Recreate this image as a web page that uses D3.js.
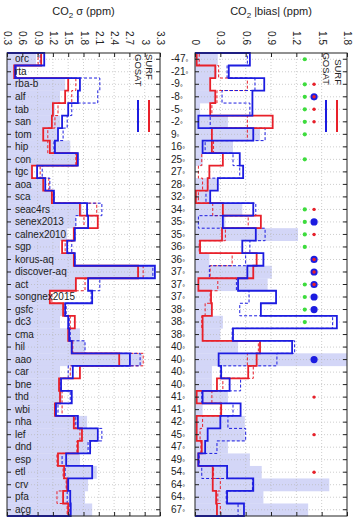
<!DOCTYPE html>
<html>
<head>
<meta charset="utf-8">
<script src="https://cdn.jsdelivr.net/npm/d3@7"></script>
<style>
  body { margin: 0; background: #fff; }
  text { font-family: "Liberation Sans", Arial, sans-serif; }
</style>
</head>
<body>
<svg id="chart" width="353" height="521"></svg>
<script>
const sites = ['orc', 'rta', 'rba-b', 'alf', 'tab', 'san', 'tom', 'hip', 'con', 'tgc', 'aoa', 'sca',
  'seac4rs', 'senex2013', 'calnex2010', 'sgp', 'korus-aq', 'discover-aq', 'act', 'songnex2015',
  'gsfc', 'dc3', 'cma', 'hil', 'aao', 'car', 'bne', 'thd', 'wbi', 'nha', 'lef', 'dnd', 'esp',
  'etl', 'crv', 'pfa', 'acg'];
const lats = [-47, -21, -9, -8, -5, -2, 9, 16, 25, 27, 28, 32, 34, 35, 35, 36, 36, 37, 37, 37,
  38, 38, 38, 40, 40, 40, 40, 41, 41, 42, 45, 47, 49, 54, 64, 64, 67];

// CO2 sigma (ppm)
const sigmaTicks = [0.3, 0.6, 0.9, 1.2, 1.5, 1.8, 2.1, 2.4, 2.7, 3, 3.3];
const sigmaObs = [0.87, 0.42, 1.44, 1.34, 1.24, 1.34, 1.28, 1.54, 1.69, 0.79, 1.01, 1.18, 1.77, 1.65, 1.48, 1.34, 1.59, 3.20, 1.67, 1.14,
  1.40, 1.34, 1.73, 1.83, 2.95, 1.34, 1.34, 1.38, 1.28, 1.87, 2.06, 1.89, 1.73, 2.06, 1.89, 1.83, 1.97];
const sigmaSurf = [0.97, 0.44, 1.50, 1.44, 1.20, 1.18, 1.01, 1.14, 1.67, 0.79, 1.01, 1.18, 1.73, 2.08, 1.61, 1.38, 1.61, 2.87, 1.65, 1.14,
  1.40, 1.63, 1.50, 1.57, 2.50, 1.73, 1.32, 1.34, 1.24, 1.61, 1.77, 1.69, 1.30, 1.42, 1.48, 1.40, 1.50];
const sigmaSurfDash = [0.91, 0.46, 1.65, 1.57, 1.30, 1.24, 1.10, 1.10, 1.65, 0.95, 1.12, 1.20, 2.06, 1.81, 1.61, 1.44, 1.61, 2.97, 1.83, 1.18,
  1.42, 1.54, 1.52, 1.59, 2.97, 1.54, 1.34, 1.38, 1.38, 1.63, 1.73, 1.67, 1.28, 1.40, 1.46, 1.28, 1.48];
const sigmaGosat = [1.03, 0.46, 1.73, 1.69, 1.50, 1.38, 1.30, 1.24, 1.69, 0.89, 1.05, 1.22, 1.87, 1.89, 1.63, 1.48, 1.63, 3.20, 1.89, 1.97,
  1.44, 1.50, 1.52, 1.57, 2.71, 1.59, 1.36, 1.57, 1.26, 1.69, 2.08, 1.93, 1.46, 1.97, 1.50, 1.54, 1.55];
const sigmaGosatDash = [0.95, 0.48, 2.12, 2.08, 1.57, 1.48, 1.40, 1.22, 1.67, 0.99, 1.14, 1.22, 2.16, 1.65, 1.63, 1.57, 1.63, 3.16, 2.12, 1.95,
  1.46, 1.52, 1.54, 1.83, 2.91, 1.50, 1.34, 1.54, 1.30, 1.65, 2.16, 1.89, 1.38, 1.44, 1.48, 1.48, 1.52];

// CO2 |bias| (ppm)
const biasTicks = [0, 0.3, 0.6, 0.9, 1.2, 1.5, 1.8];
const biasObs = [0.27, 0.26, 0.18, 0.24, 0.06, 0.39, 0.77, 0.45, 0.09, 0.01, 0.26, 0.18, 0.56, 0.36, 1.22, 0.06, 0.17, 0.91, 0.86, 0.18,
  0.20, 0.33, 0.30, 0.51, 1.80, 0.20, 0.20, 0.39, 0.09, 0.59, 0.59, 0.39, 0.65, 0.79, 1.59, 0.81, 1.34];
const biasSurf = [0.02, 0.24, 0.18, 0.24, 0.18, 0.92, 0.20, 0.20, 0.33, 0.17, 0.15, 0.01, 0.33, 0.78, 0.32, 0.06, 0.73, 0.69, 0.04, 0.19,
  0.20, 0.09, 0.09, 0.77, 0.73, 0.63, 0.26, 0.02, 0.31, 0.02, 0.02, 0.08, 0.04, 0.21, 0.21, 0.25, 0.26];
const biasSurfDash = [0.05, 0.28, 0.62, 0.26, 0.20, 0.62, 0.62, 0.22, 0.08, 0.04, 0.09, 0.04, 0.21, 0.63, 0.36, 0.05, 0.44, 0.18, 0.27, 0.18,
  0.12, 0.08, 0.09, 0.75, 0.62, 0.69, 0.33, 0.20, 0.30, 0.09, 0.06, 0.07, 0.04, 0.22, 0.30, 0.27, 0.30];
const biasGosat = [0.65, 0.40, 0.82, 0.68, 0.68, 0.04, 0.69, 0.09, 0.53, 0.57, 0.27, 0.18, 0.69, 0.33, 0.72, 0.56, 0.81, 0.62, 0.51, 0.96,
  0.78, 1.68, 0.45, 1.15, 0.28, 0.31, 0.41, 0.09, 0.54, 0.30, 0.15, 0.12, 0.04, 0.38, 0.69, 0.38, 0.58];
const biasGosatDash = [0.62, 0.38, 0.71, 0.32, 0.65, 0.18, 0.83, 0.12, 0.45, 0.53, 0.15, 0.13, 0.72, 0.04, 0.83, 0.65, 0.60, 0.17, 0.49, 0.64,
  0.53, 1.63, 0.44, 1.18, 0.97, 0.30, 0.54, 0.08, 0.45, 0.39, 0.60, 0.26, 0.05, 0.08, 0.68, 0.37, 0.51];

// markers in the bias panel (1 = shown)
const flagGreen = [1, 0, 1, 1, 1, 1, 1, 0, 1, 0, 0, 0, 1, 1, 1, 1, 0, 0, 1, 1, 1, 1, 0, 0, 0, 0, 0, 0, 0, 0, 0, 0, 0, 0, 0, 0, 0];
const flagRed   = [0, 0, 1, 1, 1, 1, 0, 0, 0, 0, 0, 0, 1, 0, 1, 0, 1, 1, 1, 0, 0, 0, 0, 0, 0, 0, 0, 1, 0, 0, 1, 0, 0, 1, 0, 0, 0];
const flagBlue  = [0, 0, 0, 1, 0, 0, 0, 0, 0, 0, 0, 0, 0, 1, 0, 0, 1, 1, 1, 1, 1, 0, 0, 0, 1, 0, 0, 0, 0, 0, 0, 0, 0, 0, 0, 0, 0];

const RED = '#e8202a', BLUE = '#1c1ce0', SHADE = '#d3d6f7', GREEN = '#3ddc3d';
const plotTop = 53, plotBottom = 516;

const svg = d3.select('#chart');
const y = d3.scaleBand().domain(d3.range(sites.length)).range([plotTop, plotBottom]);
const bw = y.bandwidth();

function drawPanel(p) {
  const x = d3.scaleLinear().domain(p.domain).range(p.range);
  const x0 = x(p.domain[0]);
  const g = svg.append('g');

  g.selectAll('.shade')
    .data(p.shade)
    .join('rect')
    .attr('class', 'shade')
    .attr('x', x0)
    .attr('y', (d, i) => y(i))
    .attr('width', d => x(d) - x0)
    .attr('height', bw + 0.3)
    .attr('fill', SHADE);

  // dotted grid
  g.selectAll('.vgrid')
    .data(p.ticks.slice(1, -1))
    .join('line')
    .attr('x1', d => x(d)).attr('x2', d => x(d))
    .attr('y1', plotTop).attr('y2', plotBottom)
    .attr('stroke', '#b8b8b8').attr('stroke-width', 0.7).attr('stroke-dasharray', '1,2');
  g.selectAll('.hgrid')
    .data(d3.range(sites.length))
    .join('line')
    .attr('x1', p.range[0]).attr('x2', p.range[1])
    .attr('y1', d => y(d) + bw / 2).attr('y2', d => y(d) + bw / 2)
    .attr('stroke', '#b8b8b8').attr('stroke-width', 0.7).attr('stroke-dasharray', '1,2');

  const line = d3.line().x(d => x(d[0])).y(d => d[1]);
  p.series.forEach(s => {
    const pts = [[p.domain[0], plotTop]];
    s.values.forEach((v, i) => {
      pts.push([v, y(i)], [v, y(i) + bw]);
    });
    pts.push([p.domain[0], plotBottom]);
    g.append('path')
      .attr('d', line(pts))
      .attr('fill', 'none')
      .attr('stroke', s.color)
      .attr('stroke-width', s.dash ? 1 : 1.8)
      .attr('stroke-dasharray', s.dash ? '3,2' : null);
  });

  if (p.markers) p.markers(g, x);

  // frame
  g.append('rect')
    .attr('x', p.range[0]).attr('y', plotTop)
    .attr('width', p.range[1] - p.range[0]).attr('height', plotBottom - plotTop)
    .attr('fill', 'none').attr('stroke', '#222').attr('stroke-width', 1);

  // top ticks with rotated labels
  const topAxis = g.append('g')
    .attr('transform', `translate(0,${plotTop})`)
    .call(d3.axisTop(x).tickValues(p.ticks).tickSize(-4).tickFormat(d3.format('')));
  topAxis.select('.domain').remove();
  topAxis.selectAll('text')
    .attr('transform', 'rotate(90)')
    .attr('x', -8).attr('y', 0).attr('dy', '0.35em')
    .attr('text-anchor', 'end')
    .attr('font-size', 10).attr('fill', '#222');

  const botAxis = g.append('g')
    .attr('transform', `translate(0,${plotBottom})`)
    .call(d3.axisBottom(x).tickValues(p.ticks).tickSize(-4).tickFormat(''));
  botAxis.select('.domain').remove();

  const rightAxis = g.append('g')
    .attr('transform', `translate(${p.range[1]},0)`)
    .call(d3.axisRight(y).tickSize(-4).tickFormat(''));
  rightAxis.select('.domain').remove();

  const leftAxis = g.append('g')
    .attr('transform', `translate(${p.range[0]},0)`)
    .call(d3.axisLeft(y).tickSize(-4).tickFormat(p.label));
  leftAxis.select('.domain').remove();
  leftAxis.selectAll('line').attr('stroke', '#222');
  leftAxis.selectAll('text')
    .attr('x', p.labelX)
    .attr('text-anchor', 'start')
    .attr('font-size', 10).attr('fill', '#222');
  if (p.degree) {
    leftAxis.selectAll('text').append('tspan')
      .attr('font-size', 7).attr('dy', '0.3em').text('°');
  }
  g.selectAll('.tick line').attr('stroke', '#222');

  // title
  const t = svg.append('text')
    .attr('x', (p.range[0] + p.range[1]) / 2 + p.titleShift).attr('y', 15)
    .attr('text-anchor', 'middle').attr('font-size', 11).attr('fill', '#222');
  t.append('tspan').text('CO');
  t.append('tspan').attr('font-size', 8).attr('dy', 3).text('2');
  t.append('tspan').attr('dy', -3).text(p.title);

  // rotated legend
  const lg = g.append('g');
  p.legend.forEach(l => {
    lg.append('text')
      .attr('transform', `translate(${l.tx},${l.ty}) rotate(90)`)
      .attr('text-anchor', l.anchor)
      .attr('font-size', 9.5).attr('fill', '#222')
      .text(l.name);
    lg.append('line')
      .attr('x1', l.lx).attr('x2', l.lx)
      .attr('y1', 100).attr('y2', 132)
      .attr('stroke', l.color).attr('stroke-width', 2);
  });
}

drawPanel({
  domain: [0.3, 3.3], range: [7, 160], ticks: sigmaTicks,
  shade: sigmaObs,
  series: [
    { values: sigmaSurfDash, color: RED, dash: true },
    { values: sigmaGosatDash, color: BLUE, dash: true },
    { values: sigmaSurf, color: RED },
    { values: sigmaGosat, color: BLUE }
  ],
  label: i => sites[i], labelX: 8, degree: false,
  title: ' σ (ppm)', titleShift: 0,
  legend: [
    { name: 'SURF', tx: 146, ty: 54, anchor: 'start', lx: 149, color: RED },
    { name: 'GOSAT', tx: 134.5, ty: 54, anchor: 'start', lx: 138, color: BLUE }
  ]
});

drawPanel({
  domain: [0, 1.8], range: [195, 347], ticks: biasTicks,
  shade: biasObs,
  series: [
    { values: biasSurfDash, color: RED, dash: true },
    { values: biasGosatDash, color: BLUE, dash: true },
    { values: biasSurf, color: RED },
    { values: biasGosat, color: BLUE }
  ],
  label: i => String(lats[i]), labelX: -24, degree: true,
  title: ' |bias| (ppm)', titleShift: 0,
  legend: [
    { name: 'SURF', tx: 334.5, ty: 85, anchor: 'end', lx: 337, color: RED },
    { name: 'GOSAT', tx: 322.5, ty: 85, anchor: 'end', lx: 326, color: BLUE }
  ],
  markers: (g, x) => {
    const idx = d3.range(sites.length);
    g.selectAll('.mg').data(idx.filter(i => flagGreen[i])).join('circle')
      .attr('cx', x(1.3)).attr('cy', i => y(i) + bw / 2).attr('r', 2.1).attr('fill', GREEN);
    g.selectAll('.mb').data(idx.filter(i => flagBlue[i])).join('circle')
      .attr('cx', x(1.41)).attr('cy', i => y(i) + bw / 2).attr('r', 3.6).attr('fill', BLUE);
    g.selectAll('.mr').data(idx.filter(i => flagRed[i])).join('circle')
      .attr('cx', x(1.41)).attr('cy', i => y(i) + bw / 2).attr('r', 1.7).attr('fill', RED);
  }
});
</script>
</body>
</html>
